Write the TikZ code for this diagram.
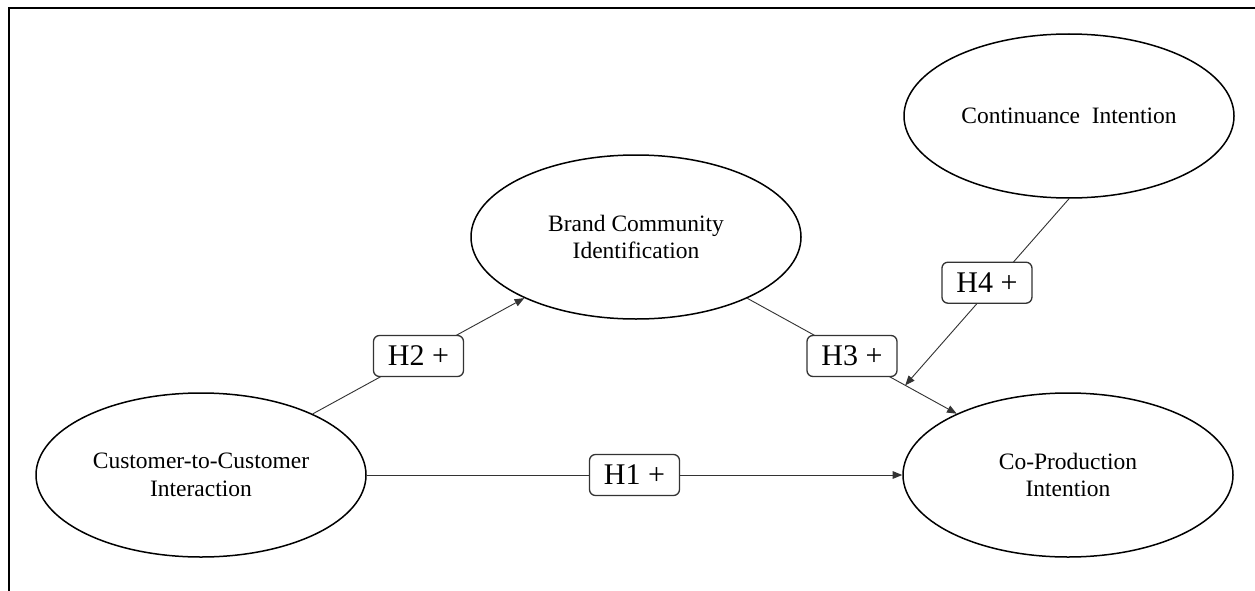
\documentclass[tikz,border=0pt]{standalone}
\usepackage{fontspec}
\setmainfont{Liberation Serif}
\usetikzlibrary{shapes.geometric,arrows.meta}
\begin{document}
\begin{tikzpicture}[x=0.6pt,y=-0.6pt,
  construct/.style={ellipse,draw,line width=0.9pt,minimum width=198pt,minimum height=98.4pt,inner sep=0pt,align=center,font=\fontsize{14.1}{16.6}\selectfont},
  hyp/.style={draw,line width=0.8pt,rounded corners=3.6pt,fill=white,minimum width=54pt,minimum height=24.6pt,inner sep=0pt,font=\fontsize{18}{20}\selectfont},
  link/.style={line width=0.55pt,draw=black!80,-{Triangle[length=5.8pt,width=4.6pt]}},
  frameline/.style={line width=1.3pt}]
\useasboundingbox (0,0) rectangle (1255,590);
% frame
\coordinate (f1) at (9,591);
\coordinate (f2) at (9,8);
\coordinate (f3) at (1256,8);
\draw[frameline] (f1) -- (f2) -- (f3);
% constructs
\node[construct] (c2c) at (201,475) {Customer-to-Customer\\Interaction};
\node[construct] (cpi) at (1068,475) {Co-Production\\Intention};
\node[construct] (bci) at (636,237) {Brand Community\\Identification};
\node[construct] (ci) at (1069,116) {Continuance\ \ Intention};
% links
\draw[link] (c2c) -- node[hyp]{H1 +} (cpi);
\draw[link] (c2c) -- node[hyp]{H2 +} (bci);
\draw[link] (bci) -- coordinate[pos=0.754] (m3) node[hyp,pos=0.5]{H3 +} (cpi);
\draw[link] (ci.south) -- node[hyp,pos=0.45,xshift=-5pt]{H4 +} (m3);
\end{tikzpicture}
\end{document}
